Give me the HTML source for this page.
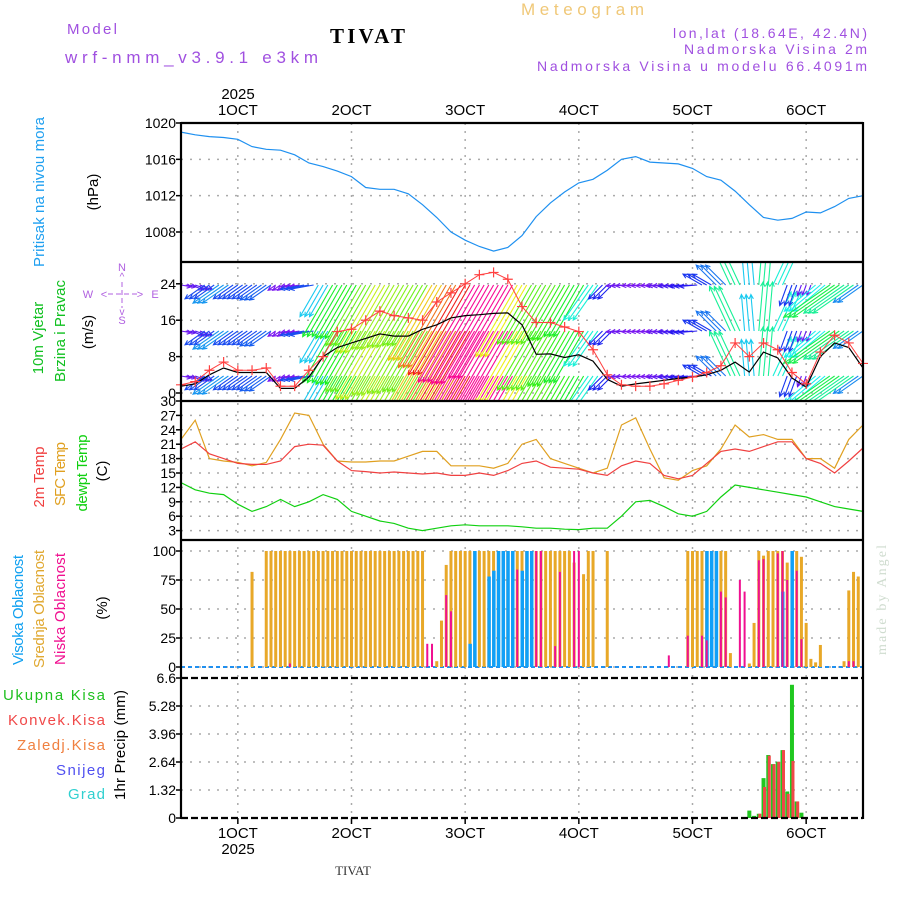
<!DOCTYPE html>
<html><head><meta charset="utf-8"><title>Meteogram TIVAT</title>
<style>
html,body{margin:0;padding:0;background:#fff;}
svg{display:block;font-family:"Liberation Sans",sans-serif;}
.tk{font-size:14px;fill:#000;text-anchor:end;}
.ax{font-size:15px;fill:#000;text-anchor:middle;}
</style></head>
<body>
<svg id="chart" xmlns="http://www.w3.org/2000/svg" width="900" height="900" viewBox="0 0 900 900">
<defs><clipPath id="windclip"><rect x="181" y="262" width="682" height="139"/></clipPath></defs>
<g>
<text x="67" y="34" font-size="15" fill="#a050e0" textLength="50">Model</text>
<text x="65" y="63" font-size="17" fill="#a050e0" textLength="253">wrf-nmm_v3.9.1 e3km</text>
<text x="330" y="43" font-size="21" font-weight="bold" fill="#000" font-family="Liberation Serif, serif" textLength="75">TIVAT</text>
<text x="521" y="15" font-size="17" fill="#f0c878" textLength="123">Meteogram</text>
<text x="867" y="38" font-size="14" fill="#a050e0" text-anchor="end" textLength="194">lon,lat (18.64E, 42.4N)</text>
<text x="867" y="54" font-size="14" fill="#a050e0" text-anchor="end" textLength="183">Nadmorska Visina 2m</text>
<text x="867" y="71" font-size="14" fill="#a050e0" text-anchor="end" textLength="330">Nadmorska Visina u modelu 66.4091m</text>
</g>
<g>
<text transform="rotate(-90 44 192)" x="44" y="192" font-size="15" fill="#20a0f0" text-anchor="middle" textLength="150">Pritisak na nivou mora</text>
<text transform="rotate(-90 98 192)" x="98" y="192" font-size="15" fill="#000" text-anchor="middle">(hPa)</text>
<text transform="rotate(-90 43 338)" x="43" y="338" font-size="15" fill="#10c020" text-anchor="middle">10m Vjetar</text>
<text transform="rotate(-90 65 331)" x="65" y="331" font-size="15" fill="#10c020" text-anchor="middle" textLength="102">Brzina i Pravac</text>
<text transform="rotate(-90 93 332)" x="93" y="332" font-size="15" fill="#000" text-anchor="middle">(m/s)</text>
<g fill="#b060e0" font-size="11" text-anchor="middle">
<text x="122" y="271">N</text><text x="122" y="324">S</text><text x="88" y="298">W</text><text x="155" y="298">E</text>
<text x="122" y="280" font-size="10">^</text><text x="122" y="315" font-size="10">v</text>
<text x="104" y="298">&lt;</text><text x="140" y="298">&gt;</text>
<line x1="122" y1="282" x2="122" y2="308" stroke="#b060e0" stroke-dasharray="5,3"/>
<line x1="108" y1="294" x2="137" y2="294" stroke="#b060e0" stroke-dasharray="5,3"/>
</g>
<text transform="rotate(-90 44 477)" x="44" y="477" font-size="15" fill="#f04040" text-anchor="middle" textLength="61">2m Temp</text>
<text transform="rotate(-90 65 474)" x="65" y="474" font-size="15" fill="#e0a020" text-anchor="middle" textLength="64">SFC Temp</text>
<text transform="rotate(-90 87 473)" x="87" y="473" font-size="15" fill="#10d010" text-anchor="middle" textLength="77">dewpt Temp</text>
<text transform="rotate(-90 107 471)" x="107" y="471" font-size="15" fill="#000" text-anchor="middle">(C)</text>
<text transform="rotate(-90 23 610)" x="23" y="610" font-size="15" fill="#10a0f0" text-anchor="middle" textLength="110">Visoka Oblacnost</text>
<text transform="rotate(-90 44 609)" x="44" y="609" font-size="15" fill="#e0a830" text-anchor="middle" textLength="118">Srednja Oblacnost</text>
<text transform="rotate(-90 65 609)" x="65" y="609" font-size="15" fill="#f01090" text-anchor="middle" textLength="112">Niska Oblacnost</text>
<text transform="rotate(-90 107 608)" x="107" y="608" font-size="15" fill="#000" text-anchor="middle">(%)</text>
<text x="105" y="700" font-size="15" fill="#20c020" text-anchor="end" textLength="102">Ukupna Kisa</text>
<text x="105" y="725" font-size="15" fill="#f04848" text-anchor="end" textLength="97">Konvek.Kisa</text>
<text x="105" y="750" font-size="15" fill="#f08040" text-anchor="end" textLength="88">Zaledj.Kisa</text>
<text x="105" y="775" font-size="15" fill="#5050f0" text-anchor="end" textLength="49">Snijeg</text>
<text x="105" y="799" font-size="15" fill="#30d0d0" text-anchor="end" textLength="37">Grad</text>
<text transform="rotate(-90 125 745)" x="125" y="745" font-size="15" fill="#000" text-anchor="middle" textLength="110">1hr Precip (mm)</text>
</g>
<text x="238" y="99" class="ax">2025</text>
<text x="238" y="854" class="ax">2025</text>
<text x="353" y="875" font-size="13" fill="#333" text-anchor="middle" font-family="Liberation Serif, serif">TIVAT</text>
<text transform="rotate(-90 886 600)" x="886" y="600" font-size="14" fill="#cfdccf" text-anchor="middle" font-family="Liberation Serif, serif" textLength="110">made by Angel</text>
<g id="grid"></g><g id="marks"></g><g id="frame"></g>
</svg>
<script>
// ---- data (3-hourly, 49 points from 30 Sep 12Z) ----
const pressure=[1019.0,1018.7,1018.5,1018.4,1018.2,1017.4,1017.1,1017.0,1016.5,1015.6,1015.2,1014.7,1014.1,1012.9,1012.7,1012.7,1012.2,1011.0,1009.6,1008.0,1007.1,1006.4,1005.9,1006.3,1007.6,1009.7,1011.2,1012.4,1013.4,1013.8,1014.8,1016.0,1016.3,1015.7,1015.6,1015.5,1015.0,1014.1,1013.7,1012.5,1011.0,1009.6,1009.3,1009.5,1010.2,1010.1,1010.8,1011.7,1012.0];
const windSpeed=[1.8,2.5,5,6.8,5,5,5.5,1.5,1.5,5,8,13.5,14,16,18,17,16.5,16,20,22,24,26,26.5,25,19,15.5,15.5,14.5,13.5,9.5,4,1.8,1.5,1.5,2,2.8,3.5,4.5,6,11,8,11,9.5,4.5,2,9,12.7,11,6.5];
const windLine=[1.5,2,4,5.5,4.5,4.5,4.5,1,1,3.5,8,10,11,12,13,12.5,12.5,14,15,16.5,17,17.2,17.5,17.6,15,8.5,8.6,7.8,8.4,7,3,1.5,2,2.4,2.8,3.2,3.5,4,5,6.8,4.6,9,7.7,3.3,1.3,8,11,10,5.5];
const windDir=[100,110,235,235,235,235,235,235,260,260,210,210,210,210,210,210,210,210,210,210,210,210,210,210,210,210,210,210,210,215,225,265,265,265,265,265,265,300,315,335,355,5,25,200,200,230,235,235,235];
const temp2m=[20,21.5,19,18,17,16.8,16.8,17.5,20.5,21,20.8,17.5,15.5,15.3,15,15.2,15,14.8,15,14.5,14.5,15,14.5,15.5,17,17.5,16.2,16,15.8,15,14.5,16.5,17.5,17,14.5,13.8,14.5,17,19.5,20,19.5,20.5,21.5,21.5,18,17,15,17.5,20.2];
const tempSfc=[22,26,18,17.5,17.2,16.5,17.2,22,27.5,27,21,17.5,17.3,17.3,17.5,17.5,18.5,19.5,19.5,16.5,16.5,16.5,16,17,21,22,18,17,16,15,16,25,26.5,20,14,13.5,15.5,16.5,20,25,22.5,23,22,22,18,18,16,22,25];
const dewpt=[13,11.5,10.8,10.5,8.5,7,8,9.5,8,9,10.5,9.5,7,6,5,4.5,3.5,3,3.5,4,4.2,4,4,4,3.8,3.5,3.5,3.3,3.2,3.5,3.5,6,9,9.3,8,6.5,6,7,10,12.5,12,11.5,11,10.5,10,9,8,7.5,7];
// hourly cloud (145 values)
const cloudMid=[0,0,0,0,0,0,0,0,0,0,0,0,
0,0,0,82,0,0,100,100,100,100,100,100,
100,100,100,100,100,100,100,100,100,100,100,100,
100,100,100,100,100,100,100,100,100,100,100,100,
100,100,100,100,0,0,5,40,88,100,100,100,
100,100,100,100,100,100,100,100,100,100,35,100,
100,100,25,100,100,100,100,100,100,100,100,90,
0,80,100,100,0,0,100,0,0,0,0,0,
0,0,0,0,0,0,0,0,0,0,0,100,
100,100,100,100,100,100,100,100,12,0,0,0,
3,38,100,96,100,100,100,100,90,100,100,95,
38,7,4,19,0,0,0,0,5,66,82,78,0];
const cloudLowHours=[23,52,53,56,57,71,75,76,79,80,83,84,103,107,110,111,114,115,118,119,122,123,126,127,128,130,131,141,142];
const cloudLowValues=[3,20,20,62,48,84,100,100,18,82,100,100,10,27,27,23,65,60,75,65,92,93,98,100,75,83,24,5,5];
const cloudHighHours=[61,62,65,66,67,68,69,70,72,73,74,111,112,113,127,129];
const cloudHighValues=[20,100,78,83,100,100,100,100,83,100,100,100,100,100,65,100];
const precipHours=[120,121,122,123,124,125,126,127,128,129,130,131];
const precipTotal=[0.35,0.1,0.2,1.88,2.97,2.54,2.65,3.2,1.25,6.28,0.78,0.25];
const precipConv=[0,0,0.2,1.46,2.94,2.54,2.65,3.2,1.14,2.69,0.78,0.05];
const dayLabels=['1OCT','2OCT','3OCT','4OCT','5OCT','6OCT'];
const dayHours=[12,36,60,84,108,132];
const pTicks=[1020,1016,1012,1008];
const wTicks=[24,16,8,0];
const tTicks=[30,27,24,21,18,15,12,9,6,3];
const cTicks=[100,75,50,25,0];
const rTicks=['6.6','5.28','3.96','2.64','1.32','0'];

const NS='http://www.w3.org/2000/svg';
const svg=document.getElementById('chart');
const G=document.getElementById('grid'),M=document.getElementById('marks'),F=document.getElementById('frame');
function mk(tag,a,p){const e=document.createElementNS(NS,tag);for(const k in a)e.setAttribute(k,a[k]);(p||svg).appendChild(e);return e;}
const X0=181,X1=863;
const xOf=h=>X0+h*(X1-X0)/144;
const yP=v=>123+(1020-v)*9.083;
const yW=v=>393-v*4.55;
const yT=v=>545-v*4.8;
const yC=v=>667-v*1.16;
const yR=v=>818-v*(140/6.6);
const step=3;

dayHours.forEach((h,i)=>{
  const x=xOf(h);
  const g=mk('line',{x1:x,y1:123,x2:x,y2:818,stroke:'#aaa','stroke-width':1.5,'stroke-dasharray':'2,6'},G);
  
  
  const t1=mk('text',{x:x,y:115,class:'ax'},F);t1.textContent=dayLabels[i];
  
  
  const t2=mk('text',{x:x,y:838,class:'ax'},F);t2.textContent=dayLabels[i];
  
  
  const tk=mk('line',{x1:x,y1:818,x2:x,y2:824,stroke:'#000','stroke-width':1.5},F);
  
  
});
function yTicks(arr,fy,name,skipGrid){
  arr.forEach(v=>{
    const y=fy(parseFloat(v));
    if(!skipGrid||!skipGrid(v)){
      const g=mk('line',{x1:X0,y1:y,x2:X1,y2:y,stroke:'#aaa','stroke-width':1.5,'stroke-dasharray':'2,7'},G);
      
      
    }
    const tk=mk('line',{x1:X0-5,y1:y,x2:X0,y2:y,stroke:'#000','stroke-width':1.5},F);
    
    
    const t=mk('text',{x:X0-5,y:y+5,class:'tk'},F);t.textContent=v;
    
    
  });
}
yTicks(pTicks,yP,'pressure');
yTicks(wTicks,yW,'wind');
yTicks(tTicks,yT,'temp',v=>v===30);
yTicks(cTicks,yC,'cloud');
yTicks(rTicks,yR,'precip',v=>v==='6.6'||v==='0');

function line(arr,fy,color,name,w){
  const pts=arr.map((v,i)=>xOf(i*step).toFixed(1)+','+fy(v).toFixed(1)).join(' ');
  const l=mk('polyline',{points:pts,fill:'none',stroke:color,'stroke-width':w||1.2},M);
  
  
  return l;
}
line(pressure,yP,'#1e90f0','pressure-line');

const WG=mk('g',{'clip-path':'url(#windclip)'},M);


function wcol(s){return s>24.5?'hsl(325,95%,50%)':'hsl('+Math.max(0,285-s*11.8)+',88%,52%)';}
const rows=[285,331,376];
for(let h=0;h<=144;h++){
  const i=Math.min(windSpeed.length-1,Math.round(h/step));
  const s=windSpeed[i],d=windDir[i]*Math.PI/180,L=s*4.2+3,c=wcol(s);
  const x=xOf(h);
  rows.forEach(ry=>{
    const hx=x+L*Math.sin(d),hy=ry-L*Math.cos(d);
    const a=mk('path',{d:'M'+x.toFixed(1)+','+ry+'L'+hx.toFixed(1)+','+hy.toFixed(1)+
      'M'+(hx-5*Math.sin(d-0.45)).toFixed(1)+','+(hy+5*Math.cos(d-0.45)).toFixed(1)+'L'+hx.toFixed(1)+','+hy.toFixed(1)+
      'L'+(hx-5*Math.sin(d+0.45)).toFixed(1)+','+(hy+5*Math.cos(d+0.45)).toFixed(1),
      fill:'none',stroke:c,'stroke-width':1.1},WG);
    
    
  });
}
line(windLine,yW,'#000','wind-speed-line',1.2);
line(windSpeed,yW,'#ff4040','wind-speed-cross-line',1);
windSpeed.forEach((v,i)=>{
  const x=xOf(i*step),y=yW(v);
  const c=mk('path',{d:'M'+(x-5)+','+y+'h10M'+x+','+(y-5)+'v10',stroke:'#ff4040','stroke-width':1.2},M);
  
  
});

line(tempSfc,yT,'#e0a020','sfc-temp-line');
line(temp2m,yT,'#f04040','temp-2m-line');
line(dewpt,yT,'#10d010','dewpt-line');

const z=mk('line',{x1:X0,y1:667,x2:X1,y2:667,stroke:'#2090f0','stroke-width':2,'stroke-dasharray':'4,3'},M);


cloudMid.forEach((v,h)=>{
  if(v<=0)return;
  const b=mk('rect',{x:xOf(h)-1.5,y:yC(v),width:3,height:667-yC(v),fill:'#e8a828'},M);
  
  
});
cloudHighHours.forEach((h,i)=>{
  const v=cloudHighValues[i];
  const b=mk('rect',{x:xOf(h)-1.5,y:yC(v),width:3.5,height:667-yC(v),fill:'#10a0f8'},M);
  
  
});
cloudLowHours.forEach((h,i)=>{
  const v=cloudLowValues[i];
  const b=mk('rect',{x:xOf(h)-1,y:yC(v),width:2,height:667-yC(v),fill:'#f01090'},M);
  
  
});
precipHours.forEach((h,i)=>{
  const v=precipTotal[i],c=precipConv[i],x=xOf(h);
  const b=mk('rect',{x:x-2,y:yR(v),width:4,height:818-yR(v),fill:'#20c820'},M);
  
  
  if(c>0){
    const r=mk('rect',{x:x-0.5,y:yR(c),width:3,height:818-yR(c),fill:'#f04848'},M);
    
    
  }
});
[[123,'solid'],[262,'solid'],[401,'solid'],[540,'solid'],[678,'dash'],[818,'dash']].forEach(([y,s])=>{
  const l=mk('line',{x1:X0,y1:y,x2:X1,y2:y,stroke:'#000','stroke-width':2.2},F);
  if(s==='dash')l.setAttribute('stroke-dasharray','7,3');
  
  
});
[X0,X1].forEach(x=>{
  const l=mk('line',{x1:x,y1:122,x2:x,y2:819,stroke:'#000','stroke-width':2.2},F);
  
  
});
</script>
</body></html>
